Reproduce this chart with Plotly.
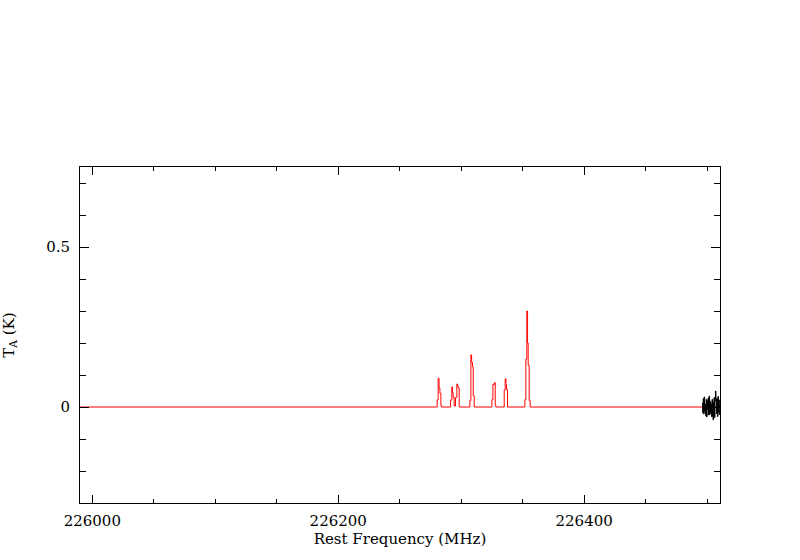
import plotly.graph_objects as go

# model spectrum (red), step edges in MHz and antenna temperature in K
model_freq = [225990.0,
              226280.5, 226281.3, 226282.0, 226282.7, 226283.5, 226284.0,
              226291.4, 226292.4, 226293.0, 226293.5, 226294.3, 226295.4,
              226296.5, 226297.0, 226297.6, 226298.4,
              226307.1, 226307.9, 226308.5, 226309.2, 226309.8, 226310.6,
              226325.0, 226325.8, 226326.9, 226327.7, 226328.2,
              226335.0, 226335.8, 226336.4, 226336.9, 226337.7,
              226351.8, 226352.6, 226353.4, 226354.0, 226354.5, 226355.3, 226356.1,
              226510.5]
model_ta = [0.0,
            0.022, 0.090, 0.060, 0.043, 0.005, 0.0,
            0.022, 0.063, 0.045, 0.030, 0.003, 0.030,
            0.072, 0.065, 0.060, 0.0,
            0.020, 0.163, 0.140, 0.126, 0.035, 0.0,
            0.023, 0.070, 0.076, 0.005, 0.0,
            0.053, 0.088, 0.070, 0.055, 0.0,
            0.023, 0.150, 0.300, 0.200, 0.131, 0.020, 0.0,
            0.0]

# observed data (black), only covering the upper edge of the band
data_freq = [226496.0, 226496.4, 226496.8, 226497.2, 226497.6, 226498.0,
             226498.4, 226498.8, 226499.2, 226499.6, 226500.0, 226500.4,
             226500.8, 226501.2, 226501.6, 226502.0, 226502.4, 226502.8,
             226503.2, 226503.6, 226504.0, 226504.4, 226504.8, 226505.2,
             226505.6, 226506.0, 226506.4, 226506.8, 226507.2, 226507.6,
             226508.0, 226508.4, 226508.8, 226509.2, 226509.6, 226510.0]
data_ta = [0.012, -0.018, 0.026, -0.022, 0.031, -0.014, 0.009, -0.027,
           0.024, -0.031, 0.021, -0.008, 0.028, -0.025, 0.034, -0.024,
           0.018, -0.019, 0.011, -0.030, 0.024, -0.029, -0.040, 0.016,
           0.030, -0.033, 0.019, 0.050, 0.026, -0.021, 0.027, -0.030,
           0.033, -0.018, 0.022, -0.025]

font = dict(family="DejaVu Serif", size=15, color="black")

fig = go.Figure()
fig.add_trace(go.Scatter(x=model_freq, y=model_ta, mode="lines",
                         line=dict(color="red", width=1, shape="hv")))
fig.add_trace(go.Scatter(x=data_freq, y=data_ta, mode="lines",
                         line=dict(color="black", width=1, shape="hv")))

axis_common = dict(showline=True, linecolor="black", linewidth=1, mirror="allticks",
                   ticks="inside", tickcolor="black", showgrid=False, zeroline=False,
                   tickfont=font, automargin=False)

fig.update_xaxes(range=[225990, 226510.5], dtick=200, tick0=226000, ticklen=8,
                 tickformat="d", ticklabelstandoff=4,
                 minor=dict(ticks="inside", dtick=50, ticklen=4, tickcolor="black"),
                 title=dict(text="Rest Frequency (MHz)", font=font, standoff=0),
                 **axis_common)
fig.update_yaxes(range=[-0.3, 0.75], dtick=0.5, tick0=0, ticklen=9,
                 ticklabelstandoff=6,
                 minor=dict(ticks="inside", dtick=0.1, ticklen=6, tickcolor="black"),
                 title=dict(text="T<sub>A</sub> (K)", font=font, standoff=33),
                 **axis_common)

fig.update_layout(width=800, height=560, showlegend=False,
                  plot_bgcolor="white", paper_bgcolor="white",
                  margin=dict(l=80, r=80, t=167, b=57))

# drop the default page margin so the figure sits at the window's corner
fig.write_html("out.html", config={"displayModeBar": False},
               post_script="document.body.style.margin='0';")
